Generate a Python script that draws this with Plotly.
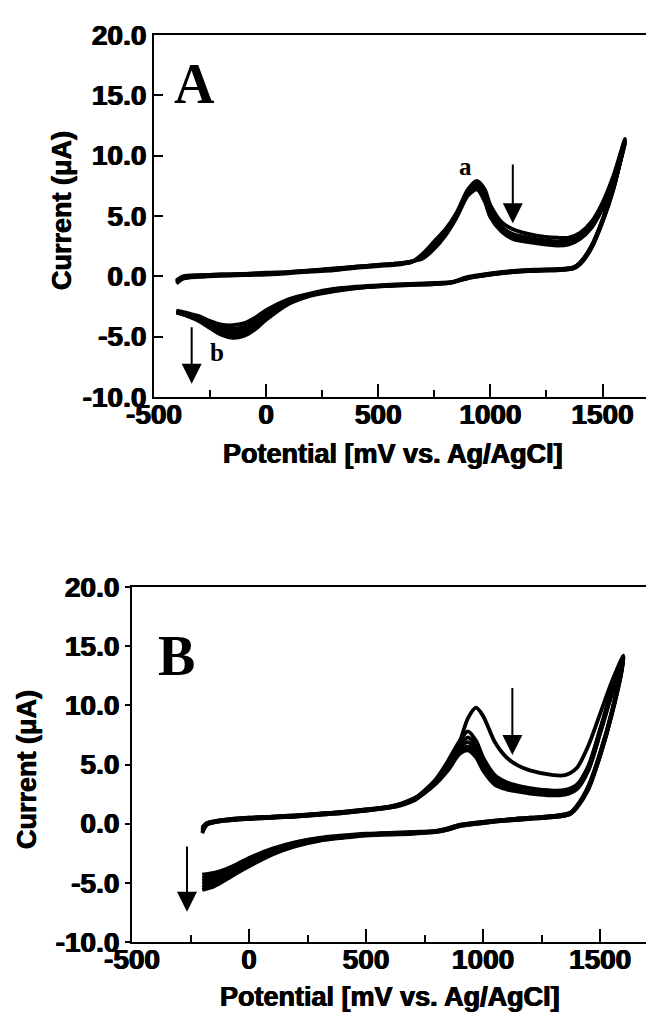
import plotly.graph_objects as go

W, H = 646, 1012

# ---------------- data ----------------
# Panel A : potential (mV) of forward and reverse sweeps
XA_F = [-400, -370, -300, -200, -100, 0, 100, 200, 300, 400, 500, 600, 650, 700, 750, 800,
        850, 900, 940, 975, 1000, 1050, 1100, 1200, 1300, 1350, 1400, 1450, 1500, 1550, 1600]
XA_R = [1550, 1500, 1450, 1400, 1370, 1300, 1200, 1100, 1000, 930, 880, 830, 750, 600, 450,
        300, 200, 100, 0, -50, -100, -150, -200, -250, -300, -350, -400]
# current (uA), forward sweeps of the successive cycles
A_F1 = [-0.6, -0.2, -0.05, 0.05, 0.1, 0.15, 0.25, 0.4, 0.5, 0.7, 0.85, 1.0, 1.2, 1.9, 2.9, 3.9,
        5.3, 7.2, 7.9, 7.2, 5.9, 4.5, 3.9, 3.4, 3.2, 3.2, 3.6, 4.5, 6.1, 8.4, 11.4]
A_F2 = [-0.5, -0.15, 0.0, 0.1, 0.15, 0.2, 0.3, 0.45, 0.55, 0.75, 0.9, 1.05, 1.2, 1.8, 2.7, 3.7,
        5.2, 7.0, 7.6, 6.7, 5.4, 4.1, 3.5, 3.1, 2.9, 3.0, 3.4, 4.3, 5.9, 8.2, 11.3]
A_F3 = [-0.45, -0.1, 0.05, 0.1, 0.2, 0.25, 0.3, 0.45, 0.6, 0.75, 0.9, 1.05, 1.2, 1.7, 2.6, 3.6,
        5.1, 6.9, 7.45, 6.5, 5.2, 3.9, 3.3, 2.95, 2.75, 2.85, 3.3, 4.2, 5.8, 8.1, 11.2]
A_F4 = [-0.4, -0.05, 0.05, 0.15, 0.2, 0.25, 0.35, 0.5, 0.6, 0.8, 0.95, 1.1, 1.25, 1.6, 2.4, 3.5,
        5.0, 6.8, 7.3, 6.3, 5.0, 3.8, 3.2, 2.85, 2.65, 2.75, 3.2, 4.1, 5.7, 8.0, 11.1]
A_F5 = [-0.35, 0.0, 0.1, 0.15, 0.2, 0.3, 0.35, 0.5, 0.65, 0.8, 0.95, 1.1, 1.25, 1.5, 2.3, 3.4,
        4.9, 6.7, 7.2, 6.2, 4.9, 3.7, 3.1, 2.75, 2.55, 2.65, 3.1, 4.0, 5.6, 7.9, 11.0]
# current (uA), reverse sweeps of the successive cycles
A_R1 = [7.3, 4.5, 2.3, 1.0, 0.65, 0.5, 0.45, 0.35, 0.15, -0.05, -0.25, -0.45, -0.55, -0.65,
        -0.8, -1.05, -1.4, -1.9, -2.8, -3.45, -3.9, -4.05, -4.0, -3.7, -3.3, -3.05, -2.85]
A_R2 = [7.35, 4.55, 2.35, 1.05, 0.65, 0.55, 0.45, 0.35, 0.15, -0.05, -0.25, -0.5, -0.6, -0.7,
        -0.85, -1.1, -1.45, -2.0, -3.0, -3.7, -4.2, -4.35, -4.2, -3.85, -3.4, -3.1, -2.9]
A_R3 = [7.4, 4.6, 2.4, 1.1, 0.7, 0.55, 0.5, 0.4, 0.2, 0.0, -0.2, -0.5, -0.6, -0.7,
        -0.85, -1.15, -1.5, -2.1, -3.2, -3.95, -4.45, -4.6, -4.4, -4.0, -3.5, -3.2, -2.95]
A_R4 = [7.45, 4.65, 2.45, 1.1, 0.7, 0.6, 0.5, 0.4, 0.2, 0.0, -0.2, -0.5, -0.65, -0.75,
        -0.9, -1.2, -1.55, -2.2, -3.4, -4.2, -4.7, -4.85, -4.6, -4.1, -3.6, -3.25, -3.0]
A_R5 = [7.5, 4.7, 2.5, 1.15, 0.75, 0.6, 0.55, 0.45, 0.25, 0.05, -0.15, -0.5, -0.65, -0.75,
        -0.9, -1.25, -1.6, -2.3, -3.6, -4.4, -4.95, -5.1, -4.85, -4.3, -3.7, -3.3, -3.0]

# Panel B
XB_F = [-200, -180, -150, -100, 0, 100, 200, 300, 400, 500, 600, 650, 700, 750, 800, 850,
        900, 935, 970, 1000, 1050, 1100, 1150, 1200, 1300, 1350, 1400, 1450, 1500, 1550, 1600]
XB_R = [1550, 1500, 1450, 1400, 1370, 1300, 1200, 1100, 1000, 900, 850, 800, 700, 500, 400,
        300, 200, 100, 0, -50, -100, -150, -200]
B_F1 = [-0.8, -0.1, 0.1, 0.25, 0.4, 0.5, 0.6, 0.75, 0.9, 1.1, 1.35, 1.55, 1.9, 2.6, 3.5, 4.8,
        6.9, 8.9, 9.8, 9.1, 6.9, 5.6, 4.9, 4.5, 4.1, 4.1, 4.7, 6.6, 9.3, 12.0, 14.2]
B_F2 = [-0.7, -0.05, 0.1, 0.25, 0.4, 0.5, 0.6, 0.75, 0.9, 1.1, 1.35, 1.6, 2.0, 2.8, 3.8, 5.3,
        7.0, 7.8, 7.0, 5.6, 4.1, 3.5, 3.2, 3.0, 2.8, 2.85, 3.3, 4.9, 8.0, 11.3, 14.1]
B_F3 = [-0.6, 0.0, 0.15, 0.3, 0.45, 0.55, 0.65, 0.8, 0.95, 1.15, 1.4, 1.6, 2.0, 2.75, 3.7, 5.1,
        6.7, 7.3, 6.6, 5.2, 3.8, 3.3, 3.0, 2.85, 2.7, 2.75, 3.2, 4.8, 7.9, 11.2, 14.0]
B_F4 = [-0.5, 0.0, 0.15, 0.3, 0.45, 0.55, 0.65, 0.8, 0.95, 1.15, 1.4, 1.65, 2.05, 2.7, 3.6, 4.9,
        6.4, 6.9, 6.2, 4.9, 3.6, 3.1, 2.9, 2.75, 2.6, 2.65, 3.1, 4.7, 7.8, 11.1, 13.9]
B_F5 = [-0.4, 0.05, 0.2, 0.35, 0.5, 0.6, 0.7, 0.85, 1.0, 1.2, 1.45, 1.65, 2.05, 2.65, 3.5, 4.7,
        6.1, 6.5, 5.9, 4.7, 3.45, 3.0, 2.8, 2.65, 2.5, 2.55, 3.0, 4.6, 7.7, 11.0, 13.8]
B_F6 = [-0.3, 0.05, 0.2, 0.35, 0.5, 0.6, 0.7, 0.85, 1.0, 1.2, 1.45, 1.7, 2.1, 2.6, 3.4, 4.5,
        5.9, 6.2, 5.6, 4.5, 3.3, 2.9, 2.7, 2.55, 2.4, 2.45, 2.9, 4.5, 7.6, 10.9, 13.7]
B_R1 = [9.5, 6.0, 3.2, 1.5, 0.9, 0.65, 0.5, 0.35, 0.15, -0.1, -0.4, -0.6, -0.7, -0.85, -1.0,
        -1.2, -1.55, -2.1, -2.9, -3.4, -3.85, -4.15, -4.3]
B_R2 = [9.4, 5.9, 3.1, 1.45, 0.9, 0.65, 0.5, 0.35, 0.15, -0.1, -0.4, -0.6, -0.75, -0.9, -1.05,
        -1.25, -1.6, -2.2, -3.0, -3.5, -4.0, -4.4, -4.6]
B_R3 = [9.4, 5.9, 3.1, 1.4, 0.85, 0.6, 0.45, 0.3, 0.1, -0.15, -0.45, -0.65, -0.75, -0.9, -1.1,
        -1.3, -1.7, -2.3, -3.15, -3.65, -4.15, -4.6, -4.85]
B_R4 = [9.3, 5.8, 3.0, 1.4, 0.85, 0.6, 0.45, 0.3, 0.1, -0.15, -0.45, -0.65, -0.8, -0.95, -1.15,
        -1.35, -1.75, -2.4, -3.3, -3.8, -4.35, -4.8, -5.1]
B_R5 = [9.3, 5.8, 3.0, 1.35, 0.8, 0.55, 0.4, 0.25, 0.05, -0.2, -0.5, -0.7, -0.8, -0.95, -1.15,
        -1.4, -1.85, -2.5, -3.45, -3.95, -4.55, -5.05, -5.35]
B_R6 = [9.2, 5.7, 2.9, 1.35, 0.8, 0.55, 0.4, 0.25, 0.05, -0.2, -0.5, -0.7, -0.85, -1.0, -1.2,
        -1.45, -1.9, -2.6, -3.6, -4.15, -4.75, -5.3, -5.6]

A_CYCLES = [(A_F1, A_R1), (A_F2, A_R2), (A_F3, A_R3), (A_F4, A_R4), (A_F5, A_R5)]
B_CYCLES = [(B_F1, B_R1), (B_F2, B_R2), (B_F3, B_R3), (B_F4, B_R4), (B_F5, B_R5), (B_F6, B_R6)]

Y_TICKS = [-10, -5, 0, 5, 10, 15, 20]
Y_TICK_TEXT = ["-10.0", "-5.0", "0.0", "5.0", "10.0", "15.0", "20.0"]
X_TICKS = [-500, 0, 500, 1000, 1500]
X_TICK_TEXT = ["-500", "0", "500", "1000", "1500"]
X_MINOR = [-250, 250, 750, 1250]

X_TITLE = "Potential [mV vs. Ag/AgCl]"
Y_TITLE = "Current (\u03bcA)"

# ---------------- figure ----------------
fig = go.Figure()
LW = 3.8
for f, r in A_CYCLES:
    fig.add_trace(go.Scatter(x=XA_F + XA_R, y=f + r, mode="lines", xaxis="x", yaxis="y",
                             line=dict(color="black", width=LW, shape="spline", smoothing=0.8),
                             showlegend=False, hoverinfo="skip"))
for f, r in B_CYCLES:
    fig.add_trace(go.Scatter(x=XB_F + XB_R, y=f + r, mode="lines", xaxis="x2", yaxis="y2",
                             line=dict(color="black", width=LW, shape="spline", smoothing=0.8),
                             showlegend=False, hoverinfo="skip"))

HEAVY = "0.6px 0 0 black, -0.6px 0 0 black"
SANS = "Liberation Sans, Arial, sans-serif"
TICKFONT = dict(family=SANS, size=28, color="black", weight="bold", shadow=HEAVY)
TITLEFONT = dict(family=SANS, size=27, color="black", weight="bold", shadow=HEAVY)


def xax(domain, rng, anchor):
    return dict(domain=domain, range=rng, anchor=anchor, showline=True, linecolor="black",
                linewidth=2, mirror=True, ticks="inside", ticklen=13, tickwidth=2,
                tickcolor="black", tickmode="array", tickvals=X_TICKS, ticktext=X_TICK_TEXT,
                tickfont=TICKFONT, showgrid=False, zeroline=False, automargin=False,
                ticklabelstandoff=-9,
                minor=dict(tickmode="array", tickvals=X_MINOR, ticks="inside", ticklen=7,
                           tickwidth=2, tickcolor="black", showgrid=False))


def yax(domain, anchor, ticks, tlen):
    return dict(domain=domain, range=[-10, 20], anchor=anchor, showline=True, linecolor="black",
                linewidth=2, mirror=False, ticks=ticks, ticklen=tlen, tickwidth=2,
                tickcolor="black", tickmode="array", tickvals=Y_TICKS, ticktext=Y_TICK_TEXT,
                tickfont=TICKFONT, showgrid=False, zeroline=False, automargin=False)


def px(x):
    return x / W


def py(y):
    return 1 - y / H


fig.update_layout(
    width=W, height=H, margin=dict(l=0, r=0, t=0, b=0),
    paper_bgcolor="white", plot_bgcolor="white", showlegend=False,
    xaxis=xax([px(154), 1.0], [-500, 1694], "y"),
    yaxis=yax([py(397), py(35)], "x", "inside", 9),
    xaxis2=xax([px(132), 1.0], [-500, 1696], "y2"),
    yaxis2=yax([py(942), py(587)], "x2", "outside", 5),
)

ann = []
# axis titles
for cx, cy in [(393, 454), (390, 997)]:
    ann.append(dict(text=X_TITLE, x=px(cx), y=py(cy), xref="paper", yref="paper",
                    showarrow=False, xanchor="center", yanchor="middle", font=TITLEFONT))
for cx, cy in [(62, 211), (27, 770)]:
    ann.append(dict(text=Y_TITLE, x=px(cx), y=py(cy), xref="paper", yref="paper",
                    showarrow=False, textangle=-90, xanchor="center", yanchor="middle",
                    font=TITLEFONT))
# panel letters
SERIF = "Liberation Serif, Times New Roman, serif"
for t, cx, cy in [("A", 194, 84), ("B", 176, 656)]:
    ann.append(dict(text=t, x=px(cx), y=py(cy), xref="paper", yref="paper", showarrow=False,
                    xanchor="center", yanchor="middle",
                    font=dict(family=SERIF, size=56, color="black", weight="bold")))
# a / b labels
for t, x, y in [("a", 887, 9.1), ("b", -220, -6.3)]:
    ann.append(dict(text=t, x=x, y=y, xref="x", yref="y", showarrow=False,
                    font=dict(family=SERIF, size=25, color="black", weight="bold")))
# arrows
ARROWS = [("x", "y", 1100, 9.4, 4.4), ("x", "y", -332, -4.1, -8.9),
          ("x2", "y2", 1125, 11.6, 5.8), ("x2", "y2", -265, -1.8, -7.45)]
for xr, yr, x, y0, y1 in ARROWS:
    ann.append(dict(text="", x=x, y=y1, ax=x, ay=y0, xref=xr, yref=yr, axref=xr, ayref=yr,
                    showarrow=True, arrowhead=2, arrowsize=2.0, arrowwidth=2,
                    arrowcolor="black"))
fig.update_layout(annotations=ann)

fig.write_html("out.html")
